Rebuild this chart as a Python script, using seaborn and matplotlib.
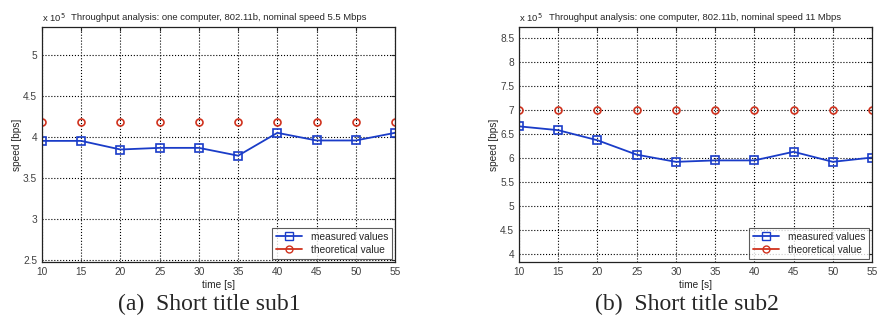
import numpy as np
import pandas as pd
import matplotlib.pyplot as plt
import seaborn as sns
from matplotlib.lines import Line2D
from matplotlib.ticker import FuncFormatter

# data (speeds in bps)
time_s = [10, 15, 20, 25, 30, 35, 40, 45, 50, 55]
measured_55 = [3.955e5, 3.955e5, 3.85e5, 3.87e5, 3.87e5, 3.775e5, 4.053e5, 3.96e5, 3.96e5, 4.053e5]
theory_55 = [4.18e5] * 10
measured_11 = [6.66e5, 6.58e5, 6.37e5, 6.07e5, 5.92e5, 5.95e5, 5.95e5, 6.13e5, 5.92e5, 6.01e5]
theory_11 = [7.0e5] * 10

titles = ["Throughput analysis: one computer, 802.11b, nominal speed 5.5 Mbps",
          "Throughput analysis: one computer, 802.11b, nominal speed 11 Mbps"]
captions = ["(a)  Short title sub1", "(b)  Short title sub2"]

sns.set_style("white")
plt.rcParams['font.family'] = ['Liberation Sans', 'DejaVu Sans']

fig = plt.figure(figsize=(8.77, 3.2), dpi=100)
ax1 = fig.add_axes([0.0479, 0.181, 0.4025, 0.7344])
ax2 = fig.add_axes([0.5918, 0.181, 0.4025, 0.7344])

blue = '#1a3cc8'
red = '#d0321e'

panels = [
    (ax1, measured_55, theory_55, (2.48e5, 5.34e5), np.arange(2.5, 5.01, 0.5)),
    (ax2, measured_11, theory_11, (3.83e5, 8.73e5), np.arange(4.0, 8.51, 0.5)),
]

for i, (ax, meas, theo, ylim, yt) in enumerate(panels):
    df = pd.DataFrame({'time': time_s, 'measured': meas, 'theory': theo})
    sns.lineplot(data=df, x='time', y='measured', ax=ax, color=blue, lw=1.3,
                 marker='s', markersize=5.5, markerfacecolor='none',
                 markeredgecolor=blue, markeredgewidth=1.2)
    sns.lineplot(data=df, x='time', y='theory', ax=ax, color=red, lw=0,
                 marker='o', markersize=5, markerfacecolor='none',
                 markeredgecolor=red, markeredgewidth=1.2)
    ax.set_xlim(10, 55)
    ax.set_ylim(*ylim)
    ax.set_xticks(time_s)
    ax.set_yticks(yt * 1e5)
    ax.yaxis.set_major_formatter(FuncFormatter(lambda v, p: f"{v/1e5:g}"))
    ax.grid(True, color='black', linestyle=':', linewidth=0.8)
    ax.tick_params(direction='in', top=True, right=True, length=3,
                   labelsize=7.3, labelcolor='#404040', width=0.8)
    for s in ax.spines.values():
        s.set_color('#222222')
        s.set_linewidth(0.9)
    ax.set_xlabel('time [s]', fontsize=7.3, labelpad=2)
    ax.set_ylabel('speed [bps]', fontsize=7.3, labelpad=1)
    ax.set_title(titles[i], fontsize=6.8, pad=5)
    ax.text(0.0, 1.015, r'x 10$^5$', transform=ax.transAxes, fontsize=6.8,
            ha='left', va='bottom')
    handles = [Line2D([], [], color=blue, lw=1.3, marker='s', markersize=5.5,
                      markerfacecolor='none', markeredgecolor=blue),
               Line2D([], [], color=red, lw=1.3, marker='o', markersize=5,
                      markerfacecolor='none', markeredgecolor=red)]
    leg = ax.legend(handles, ['measured values', 'theoretical value'],
                    loc='lower right', fontsize=7.3, frameon=True, fancybox=False,
                    edgecolor='#333333', borderaxespad=0.3, handlelength=2.6,
                    labelspacing=0.3)
    leg.get_frame().set_linewidth(0.8)

fig.text(209 / 877, 1 - 304 / 320, captions[0], fontsize=17, ha='center',
         va='center', family=['Liberation Serif', 'DejaVu Serif'])
fig.text(687 / 877, 1 - 304 / 320, captions[1], fontsize=17, ha='center',
         va='center', family=['Liberation Serif', 'DejaVu Serif'])

fig.savefig('out.png', dpi=100)
